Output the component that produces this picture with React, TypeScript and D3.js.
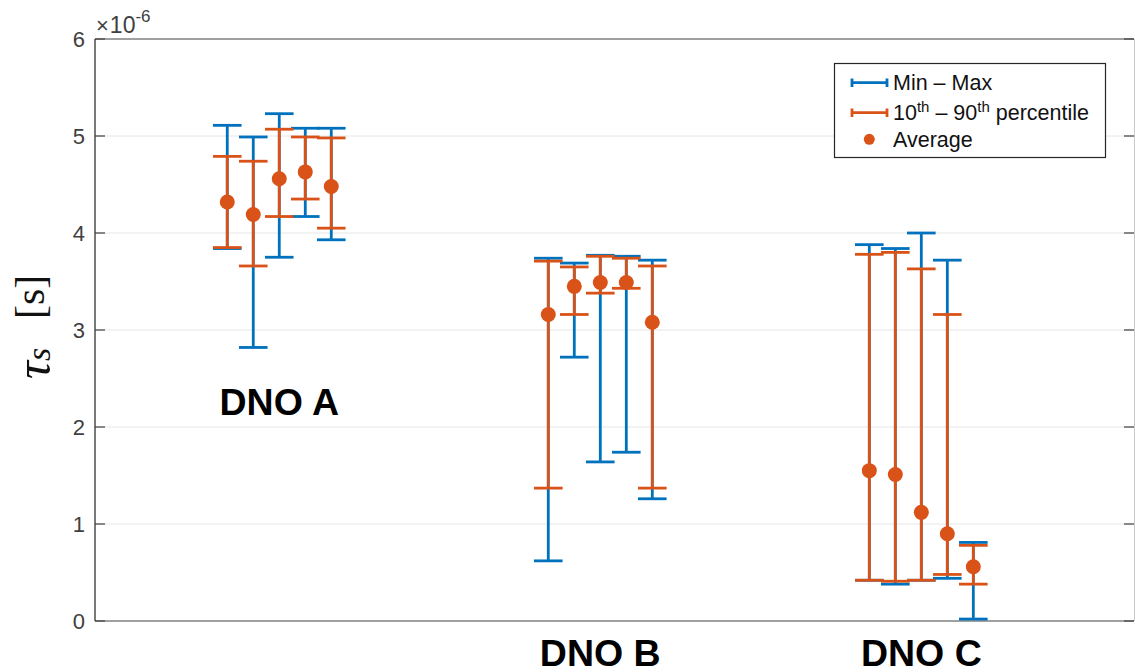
import React from "react";
import * as d3 from "d3";

// Distribution network operators (one group of five feeders each)
const categories = ["DNO A", "DNO B", "DNO C"];

// Time constant statistics, in units of 1e-6 s (five feeders per DNO)
const maxValues = [
  [5.11, 4.99, 5.23, 5.08, 5.08],
  [3.74, 3.69, 3.77, 3.76, 3.72],
  [3.88, 3.84, 4.0, 3.72, 0.81],
];
const p90Values = [
  [4.79, 4.74, 5.07, 4.99, 4.98],
  [3.71, 3.65, 3.76, 3.74, 3.66],
  [3.78, 3.8, 3.63, 3.16, 0.78],
];
const avgValues = [
  [4.32, 4.19, 4.56, 4.63, 4.48],
  [3.16, 3.45, 3.49, 3.49, 3.08],
  [1.55, 1.51, 1.12, 0.9, 0.56],
];
const p10Values = [
  [3.85, 3.66, 4.17, 4.35, 4.05],
  [1.37, 3.16, 3.38, 3.43, 1.37],
  [0.42, 0.41, 0.42, 0.48, 0.38],
];
const minValues = [
  [3.84, 2.82, 3.75, 4.17, 3.93],
  [0.62, 2.72, 1.64, 1.74, 1.26],
  [0.42, 0.38, 0.42, 0.44, 0.02],
];
const feederOffsets = [-2, -1, 0, 1, 2];
const yTicks = [0, 1, 2, 3, 4, 5, 6];

const BLUE = "#0072BD";
const ORANGE = "#D95319";
const AXIS = "#404040";

const W = 1135;
const H = 672;
const left = 95;
const right = 1134;
const top = 39;
const bottom = 621;

export default function App() {
  const x = d3.scaleLinear().domain([0.426, 3.6625]).range([left, right]);
  const y = d3.scaleLinear().domain([0, 6]).range([bottom, top]);
  const step = 0.081;
  const cap = 14.3;

  type Pt = { px: number; lo10: number; hi90: number; lo: number; hi: number; avg: number };
  const points: Pt[] = [];
  categories.forEach((_, g) => {
    feederOffsets.forEach((o, i) => {
      points.push({
        px: x(g + 1 + o * step),
        lo: minValues[g][i],
        hi: maxValues[g][i],
        lo10: p10Values[g][i],
        hi90: p90Values[g][i],
        avg: avgValues[g][i],
      });
    });
  });

  const errorBar = (px: number, lo: number, hi: number, color: string, key: string) => (
    <g key={key} stroke={color} strokeWidth={2.8} fill="none">
      <line x1={px} x2={px} y1={y(lo)} y2={y(hi)} />
      <line x1={px - cap} x2={px + cap} y1={y(lo)} y2={y(lo)} />
      <line x1={px - cap} x2={px + cap} y1={y(hi)} y2={y(hi)} />
    </g>
  );

  const labelPos = [
    { cx: x(1), cy: 415 },
    { cx: x(2), cy: 666 },
    { cx: x(3), cy: 666 },
  ];

  return (
    <svg
      width={W}
      height={H}
      style={{ position: "absolute", left: 0, top: 0, display: "block", background: "#fff" }}
      fontFamily="'Liberation Sans', Arial, Helvetica, sans-serif"
    >
      {/* grid */}
      {yTicks.filter((t) => t > 0 && t < 6).map((t) => (
        <line key={"g" + t} x1={left} x2={right} y1={y(t)} y2={y(t)} stroke="#e6e6e6" strokeWidth={1} />
      ))}

      {/* axes box */}
      <line x1={left} x2={right} y1={top} y2={top} stroke={AXIS} strokeWidth={1.2} />
      <line x1={left} x2={right} y1={bottom} y2={bottom} stroke="#808080" strokeWidth={1.6} />
      <line x1={left} x2={left} y1={top} y2={bottom} stroke={AXIS} strokeWidth={1.4} />
      <line x1={right + 0.5} x2={right + 0.5} y1={top} y2={bottom} stroke="#c8c8c8" strokeWidth={1} />

      {/* y ticks and labels */}
      {yTicks.map((t) => (
        <g key={"t" + t}>
          <line x1={left} x2={left + 10} y1={y(t)} y2={y(t)} stroke={AXIS} strokeWidth={1.2} />
          <line x1={right - 10} x2={right} y1={y(t)} y2={y(t)} stroke={AXIS} strokeWidth={1.2} />
          <text x={85} y={y(t) + 8} textAnchor="end" fontSize={22} fill={AXIS}>
            {t}
          </text>
        </g>
      ))}

      {/* exponent */}
      <text x={96} y={33} fontSize={23} fill={AXIS}>
        <tspan fontSize={22}>×</tspan>
        <tspan dx={1} fontSize={23}>10</tspan>
        <tspan dy={-11} fontSize={17}>-6</tspan>
      </text>

      {/* y label */}
      <g transform="translate(44,0) rotate(-90)" fill="#111" fontFamily="'Liberation Serif', 'DejaVu Serif', serif">
        <text x={-379} y={6} fontSize={50} fontStyle="italic">τ</text>
        <text x={-361} y={6} fontSize={34} fontStyle="italic">s</text>
        <text x={-319} y={0} fontSize={42}>[s]</text>
      </g>

      {/* min-max bars */}
      {points.map((p, i) => errorBar(p.px, p.lo, p.hi, BLUE, "mm" + i))}
      {/* percentile bars */}
      {points.map((p, i) => errorBar(p.px, p.lo10, p.hi90, ORANGE, "pp" + i))}
      {/* averages */}
      {points.map((p, i) => (
        <circle key={"a" + i} cx={p.px} cy={y(p.avg)} r={7.5} fill={ORANGE} />
      ))}

      {/* group labels */}
      {categories.map((c, i) => (
        <text
          key={c}
          x={labelPos[i].cx}
          y={labelPos[i].cy}
          textAnchor="middle"
          fontSize={37.5}
          fontWeight="bold"
          fill="#000"
        >
          {c}
        </text>
      ))}

      {/* legend */}
      <g>
        <rect x={834.5} y={63.5} width={271} height={94} fill="#fff" stroke="#262626" strokeWidth={1.2} />
        <g stroke={BLUE} strokeWidth={2.8}>
          <line x1={852} x2={887} y1={82.7} y2={82.7} />
          <line x1={852} x2={852} y1={78.5} y2={87} />
          <line x1={887} x2={887} y1={78.5} y2={87} />
        </g>
        <g stroke={ORANGE} strokeWidth={2.8}>
          <line x1={852} x2={887} y1={112.7} y2={112.7} />
          <line x1={852} x2={852} y1={108.5} y2={117} />
          <line x1={887} x2={887} y1={108.5} y2={117} />
        </g>
        <circle cx={869.3} cy={139.3} r={5.5} fill={ORANGE} />
        <g fontSize={21.5} fill="#111">
          <text x={893} y={90}>Min – Max</text>
          <text x={893} y={120}>
            10<tspan dy={-8} fontSize={15}>th</tspan>
            <tspan dy={8}> – 90</tspan>
            <tspan dy={-8} fontSize={15}>th</tspan>
            <tspan dy={8}> percentile</tspan>
          </text>
          <text x={893} y={147}>Average</text>
        </g>
      </g>
    </svg>
  );
}
